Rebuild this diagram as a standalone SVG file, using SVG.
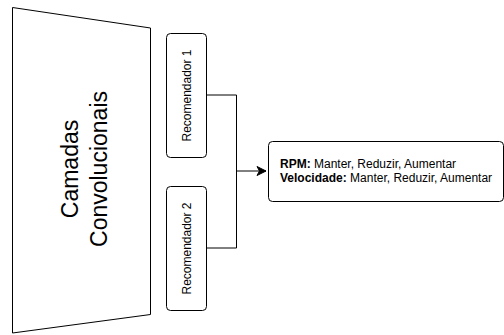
<svg xmlns="http://www.w3.org/2000/svg" width="504" height="335" viewBox="0 0 504 335">
<style>
.shape{fill:#ffffff;stroke:#000000;stroke-width:1}
.t{font-family:"Liberation Sans",Arial,sans-serif;fill:#000000}
.edge{fill:none;stroke:#000000;stroke-width:1}
</style>
<defs>
<marker id="arrow" markerWidth="12" markerHeight="12" refX="10" refY="6" orient="auto" markerUnits="userSpaceOnUse">
<path d="M1,1.5 L10,6 L1,10.5 L3.5,6 Z" fill="#000000" stroke="#000000" stroke-width="1"/>
</marker>
</defs>
<rect width="504" height="335" fill="#ffffff"/>
<g id="camadas">
<path class="shape" d="M12.5,7.5 L150.5,28 L150.5,314.5 L12.5,333 Z"/>
<text class="t" font-size="23" text-anchor="middle" transform="translate(78,169) rotate(-90)">Camadas</text>
<text class="t" font-size="23" text-anchor="middle" transform="translate(106.5,169) rotate(-90)">Convolucionais</text>
</g>
<g id="rec1">
<rect class="shape" x="166.5" y="33.5" width="40" height="124" rx="4"/>
<text class="t" font-size="12" text-anchor="middle" transform="translate(191,95.5) rotate(-90)">Recomendador 1</text>
</g>
<g id="rec2">
<rect class="shape" x="166.5" y="186.5" width="40" height="124" rx="4"/>
<text class="t" font-size="12" text-anchor="middle" transform="translate(191,248.5) rotate(-90)">Recomendador 2</text>
</g>
<g id="saida">
<rect class="shape" x="268.5" y="141.5" width="235" height="60" rx="4"/>
<text class="t" font-size="12" x="280" y="168"><tspan font-weight="bold">RPM:</tspan> Manter, Reduzir, Aumentar</text>
<text class="t" font-size="12" x="280" y="182"><tspan font-weight="bold">Velocidade:</tspan> Manter, Reduzir, Aumentar</text>
</g>
<g id="connectors">
<path class="edge" d="M206.5,95 L236.5,95 L236.5,171 L266,171" marker-end="url(#arrow)"/>
<path class="edge" d="M206.5,248 L236.5,248 L236.5,171"/>
</g>
</svg>
